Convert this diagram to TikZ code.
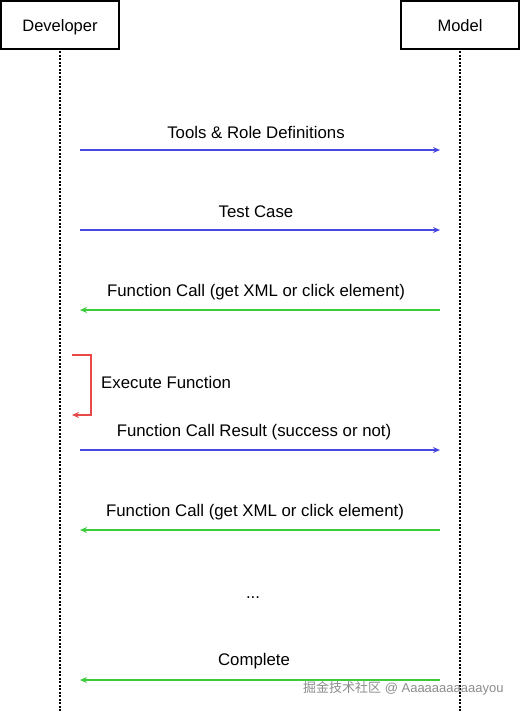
\documentclass[tikz,border=0pt]{standalone}
\usepackage{fontspec}
\setmainfont{Liberation Sans}
\newfontfamily\cjk{Noto Sans CJK SC}
\usetikzlibrary{arrows.meta}
\definecolor{msgblue}{HTML}{4848E0}
\definecolor{msggreen}{HTML}{3CCB3C}
\definecolor{selfred}{HTML}{E84848}
\tikzset{
  actor/.style={draw=black, line width=1.3pt, fill=white, minimum width=118pt, minimum height=48pt, font=\fontsize{16.5}{18}\selectfont, inner sep=0pt, text height=12pt, text depth=0pt},
  lifeline/.style={draw=black, line width=1.1pt, dash pattern=on 2pt off 1.5pt},
  tomodel/.style={draw=msgblue, line width=1.1pt, -{Stealth[length=7pt,width=6pt,open]}},
  todev/.style={draw=msggreen, line width=1.4pt, -{Stealth[length=7pt,width=6pt,open]}},
  selfmsg/.style={draw=selfred, line width=1.1pt, -{Stealth[length=7pt,width=6pt,open]}},
  lbl/.style={font=\fontsize{16.8}{19}\selectfont, inner sep=0pt}
}
\begin{document}
\begin{tikzpicture}[x=1pt,y=-1pt]
\useasboundingbox (0,0) rectangle (521,712);
% lifelines
\coordinate (devtop) at (60,51);
\coordinate (devbot) at (60,712);
\coordinate (modtop) at (460,51);
\coordinate (modbot) at (460,712);
\draw[lifeline] (devtop) -- (devbot);
\draw[lifeline] (modtop) -- (modbot);
% actors
\node[actor] (dev) at (60,25) {Developer};
\node[actor] (model) at (460,25) {Model};
% message anchors
\coordinate (d1) at (80,150); \coordinate (m1) at (440,150);
\coordinate (d2) at (80,230); \coordinate (m2) at (440,230);
\coordinate (d3) at (80,310); \coordinate (m3) at (440,310);
\coordinate (d5) at (80,450); \coordinate (m5) at (440,450);
\coordinate (d6) at (80,530); \coordinate (m6) at (440,530);
\coordinate (d8) at (80,680); \coordinate (m8) at (440,680);
\coordinate (s1) at (72,355);
\coordinate (s2) at (72,415);
% messages
\draw[tomodel] (d1) -- (m1);
\node[lbl] (t1) at (256,132) {Tools \& Role Definitions};
\draw[tomodel] (d2) -- (m2);
\node[lbl] (t2) at (256,212) {Test Case};
\draw[todev] (m3) -- (d3);
\node[lbl] (t3) at (256,292) {Function Call (get XML or click element)};
\draw[selfmsg] (s1) -- ++(19,0) |- (s2);
\node[lbl, anchor=west] (t4) at (101,382) {Execute Function};
\draw[tomodel] (d5) -- (m5);
\node[lbl] (t5) at (254,432) {Function Call Result (success or not)};
\draw[todev] (m6) -- (d6);
\node[lbl] (t6) at (255,512) {Function Call (get XML or click element)};
\node[lbl] (t7) at (253,598) {...};
\draw[todev] (m8) -- (d8);
\node[lbl] (t8) at (254,661) {Complete};
% watermark
\node[inner sep=0pt, anchor=west, text=black!45, font=\fontsize{13}{15}\selectfont] (wm) at (303,688) {{\cjk 掘金技术社区} @ Aaaaaaaaaaayou};
\end{tikzpicture}
\end{document}
